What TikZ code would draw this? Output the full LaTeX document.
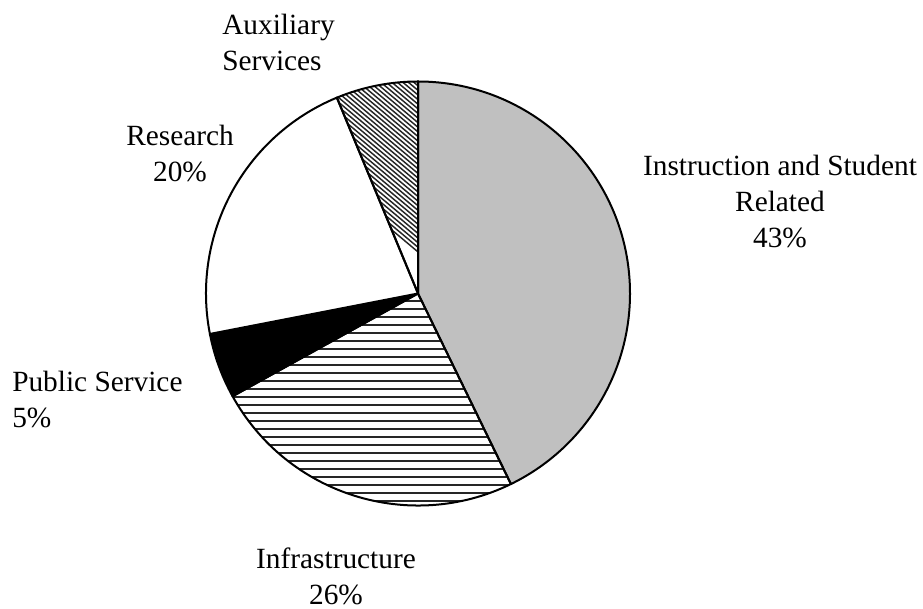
\documentclass[tikz,border=0pt]{standalone}
\usepackage{fontspec}
\setmainfont{Liberation Serif}
\usepackage{tikz}
\definecolor{instgray}{RGB}{192,192,192}
\tikzset{slice/.style={draw=black, line width=1.5pt, line join=round}}
\tikzset{hatch/.style={line width=1.3pt, black!85}}
\tikzset{lbl/.style={inner sep=0pt, align=center}}

\begin{document}
\begin{tikzpicture}[x=0.75pt, y=0.75pt, font=\fontsize{22}{27}\selectfont]
\useasboundingbox (0,0) rectangle (923,609);
\coordinate (o) at (418,315.5);
% slices, clockwise from the top
\draw[slice, fill=instgray] (o) -- ++(90:212) arc[start angle=90, end angle=-64, radius=212] -- cycle;
% infrastructure, horizontal lines
\begin{scope}
\clip (o) -- ++(-64:212) arc[start angle=-64, end angle=-151, radius=212] -- cycle;
\foreach \y in {100,108,...,320} \draw[hatch] (200,\y) -- (520,\y);
\end{scope}
\draw[slice] (o) -- ++(-64:212) arc[start angle=-64, end angle=-151, radius=212] -- cycle;
\draw[slice, fill=black] (o) -- ++(-151:212) arc[start angle=-151, end angle=-169, radius=212] -- cycle;
\draw[slice, fill=white] (o) -- ++(191:212) arc[start angle=191, end angle=112.5, radius=212] -- cycle;
% auxiliary services, diagonal lines
\begin{scope}
\clip (o) -- ++(112.5:212) arc[start angle=112.5, end angle=90, radius=212] -- cycle;
\foreach \x in {200,205.5,...,560} \draw[hatch, line width=1.1pt] (\x,540) -- ++(-40:300);
\end{scope}
\draw[slice] (o) -- ++(112.5:212) arc[start angle=112.5, end angle=90, radius=212] -- cycle;
% labels
\node[lbl, align=left, anchor=west] (aux) at (222,567) {Auxiliary\\Services};
\node[lbl] (res) at (180,455) {Research\\20\%};
\node[lbl] (inst) at (780,407) {Instruction and Student\\Related\\43\%};
\node[lbl, align=left, anchor=west] (pub) at (12,209) {Public Service\\5\%};
\node[lbl] (infra) at (336,33) {Infrastructure\\26\%};
\end{tikzpicture}
\end{document}
